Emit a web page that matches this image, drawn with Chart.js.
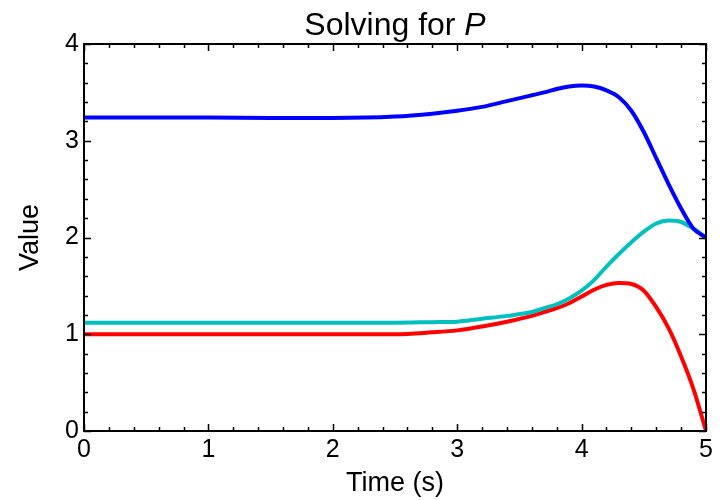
<!DOCTYPE html>
<html>
<head>
<meta charset="utf-8">
<script src="https://cdn.jsdelivr.net/npm/chart.js@4/dist/chart.umd.min.js"></script>
<style>
    html, body { margin: 0; padding: 0; background: #fff; }
    #wrap { width: 722px; height: 500px; }
</style>
</head>
<body>
<div id="wrap"><canvas id="chart" width="722" height="500"></canvas></div>
<script>
// valeurs
const temps = [0, 0.5, 1, 1.5, 2, 2.5, 2.8, 3.0, 3.2, 3.4, 3.6, 3.7, 3.8, 3.9, 4.0, 4.1, 4.2, 4.3, 4.4, 4.5, 4.6, 4.7, 4.8, 4.9, 5.0];
const serieBleue = [3.24, 3.24, 3.24, 3.235, 3.235, 3.25, 3.28, 3.31, 3.35, 3.41, 3.47, 3.50, 3.535, 3.56, 3.57, 3.56, 3.52, 3.45, 3.31, 3.09, 2.82, 2.55, 2.30, 2.09, 2.00];
const serieCyan = [1.12, 1.12, 1.12, 1.12, 1.12, 1.12, 1.125, 1.13, 1.16, 1.19, 1.23, 1.27, 1.31, 1.37, 1.45, 1.56, 1.70, 1.83, 1.95, 2.06, 2.145, 2.175, 2.16, 2.09, 2.00];
const serieRouge = [1.0, 1.0, 1.0, 1.0, 1.0, 1.0, 1.02, 1.04, 1.08, 1.13, 1.19, 1.23, 1.27, 1.32, 1.39, 1.46, 1.51, 1.53, 1.52, 1.45, 1.28, 1.06, 0.77, 0.43, 0.0];
const ticksX = [0, 1, 2, 3, 4, 5];
const ticksY = [0, 1, 2, 3, 4];

const police = "'Liberation Sans', Arial, sans-serif";

function points(vals) {
    return temps.map((t, i) => ({ x: t, y: vals[i] }));
}

// cadre, petites graduations et titres
const cadre = {
    id: "cadre",
    afterDraw(chart) {
        const ctx = chart.ctx;
        const a = chart.chartArea;
        const sx = chart.scales.x;
        const sy = chart.scales.y;
        ctx.save();
        ctx.strokeStyle = "#000";
        ctx.lineWidth = 2;
        ctx.strokeRect(a.left, a.top, a.right - a.left, a.bottom - a.top);
        ctx.lineWidth = 1.5;
        for (let k = 0; k <= 25; k++) {
            const px = Math.round(sx.getPixelForValue(k * 0.2)) + 0.5;
            const len = k % 5 === 0 ? 7 : 4;
            ctx.beginPath();
            ctx.moveTo(px, a.bottom); ctx.lineTo(px, a.bottom - len);
            ctx.moveTo(px, a.top); ctx.lineTo(px, a.top + len);
            ctx.stroke();
        }
        for (let k = 0; k <= 20; k++) {
            const py = Math.round(sy.getPixelForValue(k * 0.2)) + 0.5;
            const len = k % 5 === 0 ? 7 : 4;
            ctx.beginPath();
            ctx.moveTo(a.left, py); ctx.lineTo(a.left + len, py);
            ctx.moveTo(a.right, py); ctx.lineTo(a.right - len, py);
            ctx.stroke();
        }
        // titre
        ctx.fillStyle = "#000";
        ctx.textBaseline = "alphabetic";
        ctx.textAlign = "left";
        const t1 = "Solving for ";
        ctx.font = "32px " + police;
        const w1 = ctx.measureText(t1).width;
        ctx.font = "italic 32px " + police;
        const w2 = ctx.measureText("P").width;
        const x0 = (a.left + a.right) / 2 - (w1 + w2) / 2;
        ctx.font = "32px " + police;
        ctx.fillText(t1, x0, 35);
        ctx.font = "italic 32px " + police;
        ctx.fillText("P", x0 + w1, 35);
        // titres des axes
        ctx.font = "27px " + police;
        ctx.textAlign = "center";
        ctx.fillText("Time (s)", (a.left + a.right) / 2, 491);
        ctx.translate(38, (a.top + a.bottom) / 2);
        ctx.rotate(-Math.PI / 2);
        ctx.fillText("Value", 0, 0);
        ctx.restore();
    }
};

new Chart(document.getElementById("chart"), {
    type: "line",
    data: {
        datasets: [
            { data: points(serieBleue), borderColor: "#0000ff" },
            { data: points(serieCyan), borderColor: "#00bfbf" },
            { data: points(serieRouge), borderColor: "#ff0000" }
        ].map(d => Object.assign(d, {
            borderWidth: 4,
            pointRadius: 0,
            fill: false,
            cubicInterpolationMode: "monotone"
        }))
    },
    options: {
        responsive: false,
        animation: false,
        layout: { padding: { top: 44, right: 16, left: 0, bottom: 0 } },
        plugins: { legend: { display: false }, tooltip: { enabled: false } },
        scales: {
            x: {
                type: "linear",
                min: 0,
                max: 5,
                afterFit: s => { s.height = 69; },
                afterBuildTicks: s => { s.ticks = ticksX.map(v => ({ value: v })); },
                grid: { display: false, drawTicks: false },
                border: { display: false },
                ticks: { color: "#000", padding: 4, font: { family: police, size: 25 } }
            },
            y: {
                min: 0,
                max: 4,
                afterFit: s => { s.width = 84; },
                afterBuildTicks: s => { s.ticks = ticksY.map(v => ({ value: v })); },
                grid: { display: false, drawTicks: false },
                border: { display: false },
                ticks: { color: "#000", padding: 5, font: { family: police, size: 25 } }
            }
        }
    },
    plugins: [cadre]
});
</script>
</body>
</html>
